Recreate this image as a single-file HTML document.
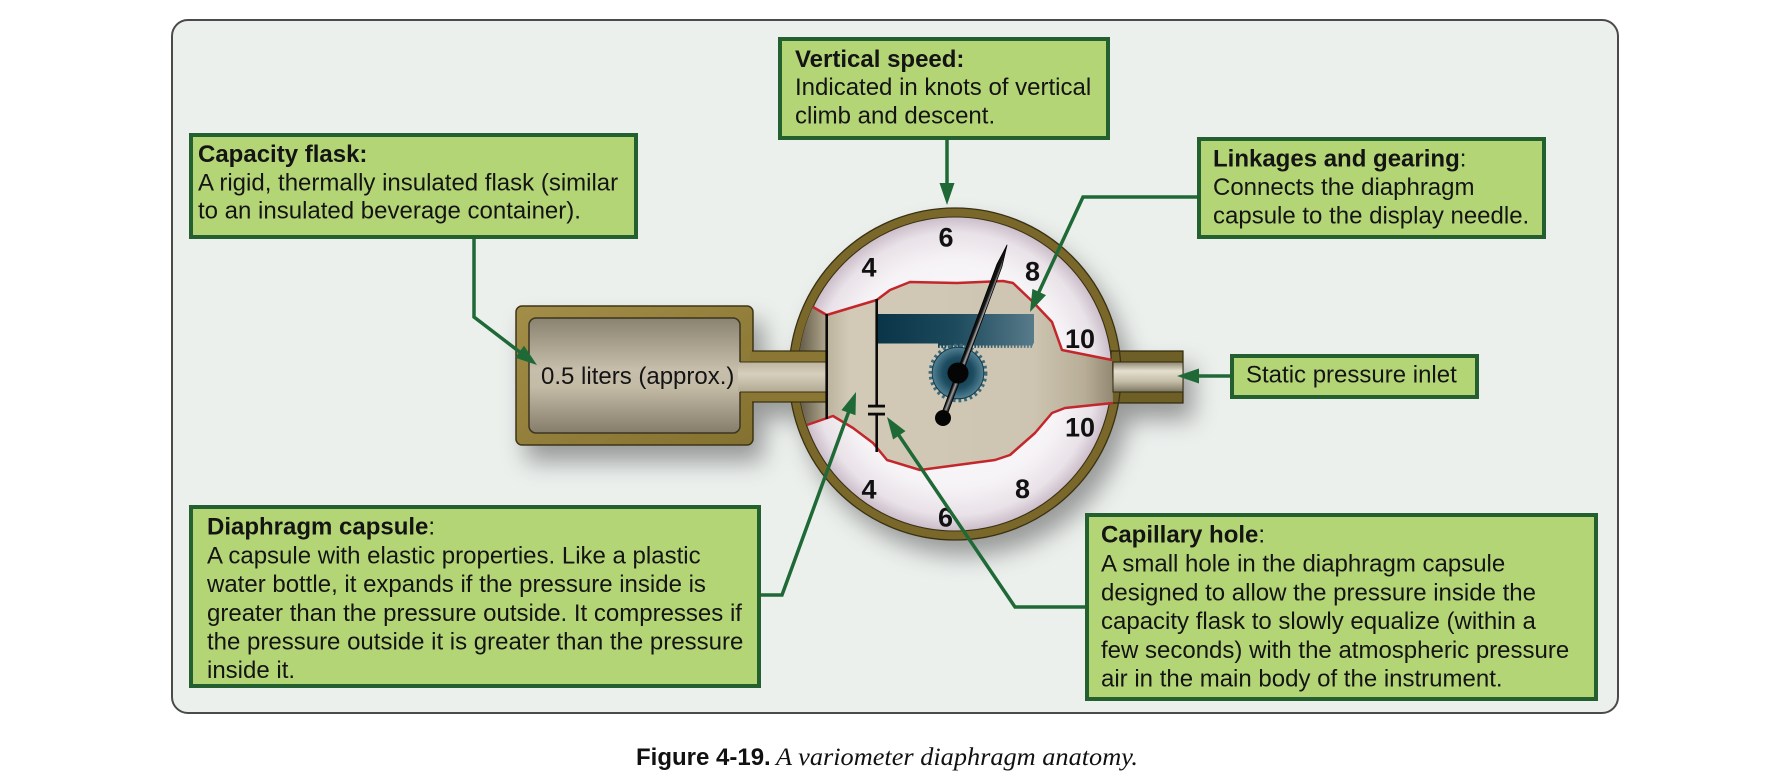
<!DOCTYPE html>
<html>
<head>
<meta charset="utf-8">
<style>
  html,body{margin:0;padding:0;background:#ffffff;}
  body{width:1788px;height:780px;overflow:hidden;}
  svg{display:block;}
  .t{font-family:"Liberation Sans",Arial,sans-serif;font-size:24px;fill:#141414;}
  .b{font-weight:bold;}
  .dg{font-family:"Liberation Sans",Arial,sans-serif;font-size:27px;font-weight:bold;fill:#111;text-anchor:middle;}
</style>
</head>
<body>
<svg width="1788" height="780" viewBox="0 0 1788 780" xmlns="http://www.w3.org/2000/svg">
  <defs>
    <filter id="ds" x="-30%" y="-30%" width="170%" height="180%">
      <feDropShadow dx="10" dy="16" stdDeviation="12" flood-color="#000" flood-opacity="0.36"/>
    </filter>
    <filter id="ig" x="0" y="0" width="100%" height="100%">
      <feFlood flood-color="#5fa238" result="f"/>
      <feComposite in="f" in2="SourceAlpha" operator="out" result="o"/>
      <feGaussianBlur in="o" stdDeviation="5" result="bl"/>
      <feComposite in="bl" in2="SourceAlpha" operator="in" result="glow"/>
      <feMerge><feMergeNode in="SourceGraphic"/><feMergeNode in="glow"/></feMerge>
    </filter>
    <radialGradient id="face" cx="955" cy="374" r="157" gradientUnits="userSpaceOnUse">
      <stop offset="0" stop-color="#ffffff"/>
      <stop offset="0.72" stop-color="#f6f3f6"/>
      <stop offset="0.9" stop-color="#e9e2e8"/>
      <stop offset="1" stop-color="#cbbdc9"/>
    </radialGradient>
    <linearGradient id="tan" x1="827" y1="0" x2="1113" y2="0" gradientUnits="userSpaceOnUse">
      <stop offset="0" stop-color="#bcb39d"/>
      <stop offset="0.08" stop-color="#d2cab7"/>
      <stop offset="0.72" stop-color="#cdc5b1"/>
      <stop offset="0.9" stop-color="#b8ae98"/>
      <stop offset="1" stop-color="#938972"/>
    </linearGradient>
    <linearGradient id="strip" x1="798" y1="0" x2="827" y2="0" gradientUnits="userSpaceOnUse">
      <stop offset="0" stop-color="#5f5743"/>
      <stop offset="1" stop-color="#b3a991"/>
    </linearGradient>
    <linearGradient id="flaskBody" x1="0" y1="0" x2="1" y2="1">
      <stop offset="0" stop-color="#a38e48"/>
      <stop offset="1" stop-color="#84712f"/>
    </linearGradient>
    <linearGradient id="cavity" x1="0" y1="0" x2="0" y2="1">
      <stop offset="0" stop-color="#8a8370"/>
      <stop offset="0.45" stop-color="#c6beaa"/>
      <stop offset="0.6" stop-color="#c3bba6"/>
      <stop offset="1" stop-color="#857d6a"/>
    </linearGradient>
    <linearGradient id="neck" x1="0" y1="362" x2="0" y2="392" gradientUnits="userSpaceOnUse">
      <stop offset="0" stop-color="#bdb49e"/>
      <stop offset="0.4" stop-color="#d6cfbd"/>
      <stop offset="1" stop-color="#b3aa93"/>
    </linearGradient>
    <linearGradient id="tube" x1="0" y1="362" x2="0" y2="392" gradientUnits="userSpaceOnUse">
      <stop offset="0" stop-color="#8d866f"/>
      <stop offset="0.3" stop-color="#e4e0d0"/>
      <stop offset="0.65" stop-color="#c4bda7"/>
      <stop offset="1" stop-color="#7c755f"/>
    </linearGradient>
    <linearGradient id="rack" x1="877" y1="0" x2="1034" y2="0" gradientUnits="userSpaceOnUse">
      <stop offset="0" stop-color="#0a3448"/>
      <stop offset="0.5" stop-color="#1d4a5d"/>
      <stop offset="1" stop-color="#587b8a"/>
    </linearGradient>
    <radialGradient id="gear" cx="958" cy="373" r="28" gradientUnits="userSpaceOnUse">
      <stop offset="0" stop-color="#0b2e3f"/>
      <stop offset="0.55" stop-color="#1e4d62"/>
      <stop offset="1" stop-color="#5d8c9e"/>
    </radialGradient>
    <linearGradient id="needle" x1="940.7" y1="417.1" x2="945.3" y2="418.9" gradientUnits="userSpaceOnUse">
      <stop offset="0" stop-color="#111"/>
      <stop offset="0.45" stop-color="#a8a8a8"/>
      <stop offset="0.65" stop-color="#555"/>
      <stop offset="1" stop-color="#0e0e0e"/>
    </linearGradient>
  </defs>

  <!-- Panel -->
  <rect x="172" y="20" width="1446" height="693" rx="16" ry="16" fill="#ecf0ed" stroke="#4a4a4a" stroke-width="2"/>

  <!-- Shadowed body: flask + gauge -->
  <g filter="url(#ds)">
    <rect x="516" y="306" width="237" height="139" rx="6" fill="url(#flaskBody)" stroke="#3d3414" stroke-width="1.5"/>
    <rect x="750" y="351" width="77" height="51" fill="#8a7733"/>
    <circle cx="955" cy="374" r="161.5" fill="none" stroke="#79682b" stroke-width="9"/>
    <circle cx="955" cy="374" r="157" fill="url(#face)"/>
    <rect x="1111" y="351" width="72" height="52" fill="#6e5f26" stroke="#2f2810" stroke-width="1.2"/>
  </g>
  <circle cx="955" cy="374" r="166" fill="none" stroke="#3a3114" stroke-width="1.3"/>
  <circle cx="955" cy="374" r="157" fill="none" stroke="#3a3114" stroke-width="1.1"/>

  <!-- Flask cavity -->
  <rect x="529" y="318" width="211" height="115" rx="7" fill="url(#cavity)" stroke="#3c3522" stroke-width="1.5"/>

  <!-- Cutaway region -->
  <path d="M813,307 L826.7,315 L876.7,300 L890,290 L910,282 L957,283 L1003,281 L1013,283 L1033,302 L1052,322 L1062,350 L1112,360 L1113,403 L1065,408 L1052,413 L1035,433 L1010,455 L995,460 L920,470 L887,460 L873,443 L853,428 L833,416 L807,425 A157,157 0 0 1 813,307 Z" fill="url(#tan)"/>
  <path d="M813,307 L826.7,315 L826.7,418 L807,425 A157,157 0 0 1 813,307 Z" fill="url(#strip)"/>

  <!-- Neck through ring -->
  <rect x="750" y="351" width="77" height="51" fill="#8a7733"/>
  <rect x="738" y="362" width="89" height="30" fill="url(#neck)"/>
  <line x1="752" y1="351" x2="826.7" y2="351" stroke="#3a3114" stroke-width="1.3"/>
  <line x1="752" y1="402" x2="826.7" y2="402" stroke="#3a3114" stroke-width="1.3"/>
  <line x1="740" y1="362" x2="826.7" y2="362" stroke="#3a3114" stroke-width="1.1"/>
  <line x1="740" y1="392" x2="826.7" y2="392" stroke="#3a3114" stroke-width="1.1"/>

  <!-- Static tube inner -->
  <rect x="1113" y="362" width="70" height="30" fill="url(#tube)" stroke="#2f2810" stroke-width="1"/>

  <!-- Red boundaries -->
  <polyline points="813,307 826.7,315 876.7,300 890,290 910,282 957,283 1003,281 1013,283 1033,302 1052,322 1062,350 1112,360" fill="none" stroke="#c3262b" stroke-width="2.5" stroke-linejoin="round"/>
  <polyline points="807,425 833,416 853,428 873,443 887,460 920,470 995,460 1010,455 1035,433 1052,413 1065,408 1113,403" fill="none" stroke="#c3262b" stroke-width="2.5" stroke-linejoin="round"/>

  <!-- Black lines -->
  <line x1="826.7" y1="314" x2="826.7" y2="419" stroke="#0a0a0a" stroke-width="2.6"/>
  <line x1="876.7" y1="299" x2="876.7" y2="405" stroke="#0a0a0a" stroke-width="2.6"/>
  <line x1="876.7" y1="414" x2="876.7" y2="452" stroke="#0a0a0a" stroke-width="2.6"/>
  <rect x="868" y="404.7" width="17" height="2.8" fill="#0a0a0a"/>
  <rect x="868" y="412.7" width="17" height="2.8" fill="#0a0a0a"/>

  <!-- Rack -->
  <rect x="878" y="314" width="156" height="29.5" fill="url(#rack)"/>
  <rect x="938" y="343" width="95" height="2.5" fill="url(#rack)"/>
  <line x1="938" y1="346.5" x2="1033" y2="346.5" stroke="url(#rack)" stroke-width="2.8" stroke-dasharray="1.7 1.6"/>

  <!-- Gear -->
  <circle cx="958" cy="373" r="27.5" fill="none" stroke="#3b6a7d" stroke-width="3.8" stroke-dasharray="2.7 3"/>
  <circle cx="958" cy="373" r="25.8" fill="url(#gear)" stroke="#173a49" stroke-width="1"/>

  <!-- Digits -->
  <text class="dg" x="946" y="246.7">6</text>
  <text class="dg" x="869" y="276.7">4</text>
  <text class="dg" x="1032.5" y="280.5">8</text>
  <text class="dg" x="1080" y="348">10</text>
  <text class="dg" x="1080" y="436.5">10</text>
  <text class="dg" x="869" y="498.3">4</text>
  <text class="dg" x="1022.5" y="498">8</text>
  <text class="dg" x="945.5" y="526.7">6</text>

  <!-- Needle -->
  <polygon points="940.4,417 945.6,419 1001.9,266.6 1007,245 996.8,264.6" fill="url(#needle)" stroke="#000" stroke-width="0.8" stroke-linejoin="round"/>
  <circle cx="958" cy="373" r="10.5" fill="#050505"/>
  <circle cx="943" cy="418" r="8" fill="#050505"/>

  <!-- Flask label -->
  <text class="t" x="541" y="384">0.5 liters (approx.)</text>

  <!-- Connectors -->
  <g stroke="#1f6937" stroke-width="3.5" fill="none" stroke-linejoin="miter">
    <polyline points="947,140 947,185"/>
    <polyline points="474,239 474,317 521,353"/>
    <polyline points="1197,197 1083,197 1038,294"/>
    <polyline points="1230,376 1197,376"/>
    <polyline points="761,595 782,595 849,411"/>
    <polyline points="1085,607 1015,607 898,434"/>
  </g>
  <g fill="#1f6937">
    <polygon points="947,205 939.5,183 954.5,183"/>
    <polygon points="537,365 514.95,357.66 524.05,345.74"/>
    <polygon points="1030,312 1032.4,288.9 1046,295.1"/>
    <polygon points="1177,376 1199,368.5 1199,383.5"/>
    <polygon points="856,392 855.5,415.25 841.4,410.1"/>
    <polygon points="887,417 905.5,431.07 893.1,439.45"/>
  </g>

  <!-- Boxes -->
  <g>
    <rect x="780" y="39" width="328" height="99" fill="#b4d576" filter="url(#ig)"/>
    <rect x="780" y="39" width="328" height="99" fill="none" stroke="#24602f" stroke-width="4"/>

    <rect x="191" y="135" width="445" height="102" fill="#b4d576" filter="url(#ig)"/>
    <rect x="191" y="135" width="445" height="102" fill="none" stroke="#24602f" stroke-width="4"/>

    <rect x="1199" y="139" width="345" height="98" fill="#b4d576" filter="url(#ig)"/>
    <rect x="1199" y="139" width="345" height="98" fill="none" stroke="#24602f" stroke-width="4"/>

    <rect x="1232" y="356" width="245" height="41" fill="#b4d576" filter="url(#ig)"/>
    <rect x="1232" y="356" width="245" height="41" fill="none" stroke="#24602f" stroke-width="4"/>

    <rect x="191" y="507" width="568" height="179" fill="#b4d576" filter="url(#ig)"/>
    <rect x="191" y="507" width="568" height="179" fill="none" stroke="#24602f" stroke-width="4"/>

    <rect x="1087" y="515" width="509" height="184" fill="#b4d576" filter="url(#ig)"/>
    <rect x="1087" y="515" width="509" height="184" fill="none" stroke="#24602f" stroke-width="4"/>
  </g>

  <!-- Box text -->
  <text class="t b" x="795" y="67">Vertical speed:</text>
  <text class="t" x="795" y="95">Indicated in knots of vertical</text>
  <text class="t" x="795" y="123.3">climb and descent.</text>

  <text class="t b" x="198" y="162">Capacity flask:</text>
  <text class="t" x="198" y="190.3">A rigid, thermally insulated flask (similar</text>
  <text class="t" x="198" y="218.6">to an insulated beverage container).</text>

  <text class="t" x="1213" y="166.7"><tspan font-weight="bold">Linkages and gearing</tspan>:</text>
  <text class="t" x="1213" y="195">Connects the diaphragm</text>
  <text class="t" x="1213" y="223.3">capsule to the display needle.</text>

  <text class="t" x="1246" y="382.7">Static pressure inlet</text>

  <text class="t" x="207" y="534.5"><tspan font-weight="bold">Diaphragm capsule</tspan>:</text>
  <text class="t" x="207" y="563.3">A capsule with elastic properties. Like a plastic</text>
  <text class="t" x="207" y="592">water bottle, it expands if the pressure inside is</text>
  <text class="t" x="207" y="620.8">greater than the pressure outside. It compresses if</text>
  <text class="t" x="207" y="649.6">the pressure outside it is greater than the pressure</text>
  <text class="t" x="207" y="678.2">inside it.</text>

  <text class="t" x="1101" y="542.7"><tspan font-weight="bold">Capillary hole</tspan>:</text>
  <text class="t" x="1101" y="571.5">A small hole in the diaphragm capsule</text>
  <text class="t" x="1101" y="600.3">designed to allow the pressure inside the</text>
  <text class="t" x="1101" y="629">capacity flask to slowly equalize (within a</text>
  <text class="t" x="1101" y="657.8">few seconds) with the atmospheric pressure</text>
  <text class="t" x="1101" y="686.5">air in the main body of the instrument.</text>

  <!-- Caption -->
  <text x="636" y="765" font-family="'Liberation Sans',Arial,sans-serif" font-size="24" font-weight="bold" fill="#111">Figure 4-19.</text>
  <text x="776" y="765" font-family="'Liberation Serif','Times New Roman',serif" font-size="25.5" font-style="italic" fill="#111" textLength="362" lengthAdjust="spacingAndGlyphs">A variometer diaphragm anatomy.</text>
</svg>
</body>
</html>
